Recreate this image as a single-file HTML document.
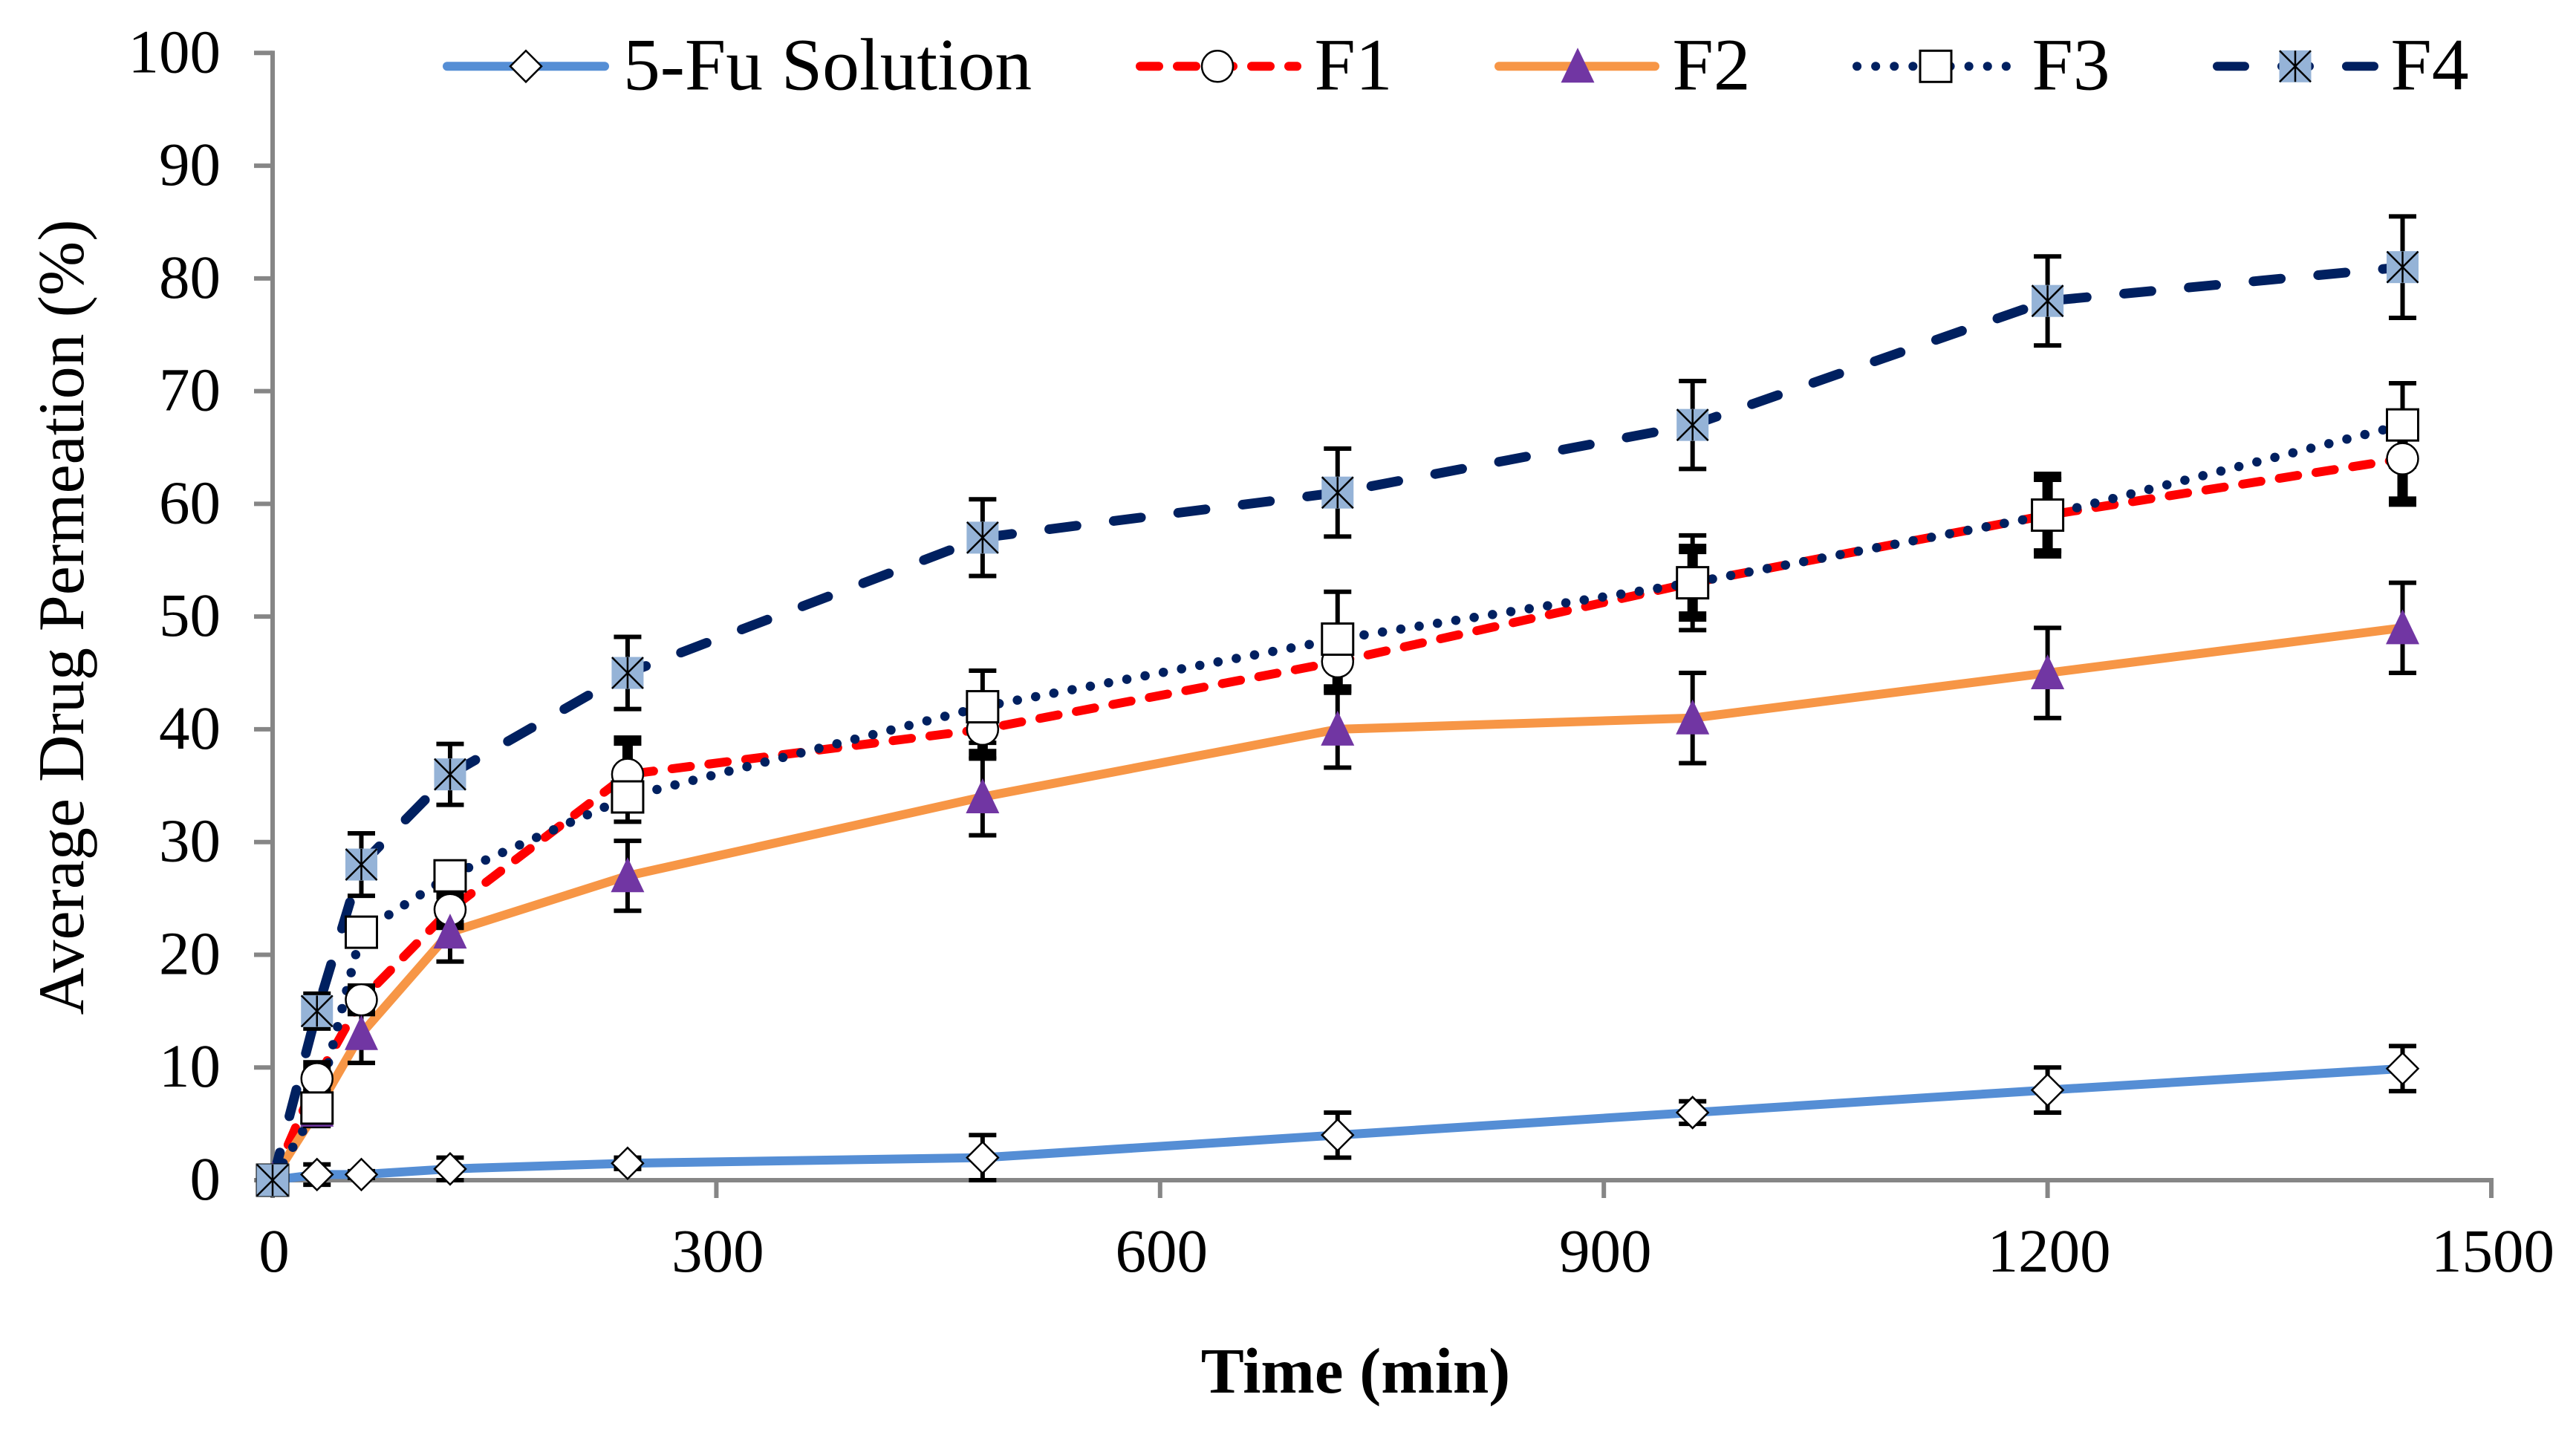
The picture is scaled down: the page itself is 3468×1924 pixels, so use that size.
<!DOCTYPE html>
<html lang="en">
<head>
<meta charset="utf-8">
<title>Average Drug Permeation</title>
<style>
html,body{margin:0;padding:0;background:#fff;}
svg{display:block;}
text{font-family:"Liberation Serif",serif;fill:#000;}
</style>
</head>
<body>
<svg id="chart" xmlns="http://www.w3.org/2000/svg" width="3468" height="1924" viewBox="0 0 3468 1924">
  <rect x="0" y="0" width="3468" height="1924" fill="#ffffff"/>
  <g id="axes"></g>
  <g id="lines"></g>
  <g id="errors"></g>
  <g id="markers"></g>
  <g id="legend"></g>
  <text x="1825" y="1875" font-size="87" font-weight="bold" text-anchor="middle">Time (min)</text>
  <text transform="translate(112 831) rotate(-90)" font-size="88" text-anchor="middle">Average Drug Permeation (%)</text>
</svg>
<script>
const times = [0, 30, 60, 120, 240, 480, 720, 960, 1200, 1440];
const xTickLabels = [0, 300, 600, 900, 1200, 1500];
const yTickLabels = [0, 10, 20, 30, 40, 50, 60, 70, 80, 90, 100];

const solutionValues = [0, 0.5, 0.5, 1, 1.5, 2, 4, 6, 8, 9.9];
const f1Values = [0, 9, 16, 24, 36, 40, 46, 53, 59, 64];
const f2Values = [0, 6.2, 13, 22, 27, 34, 40, 41, 45, 49];
const f3Values = [0, 6.4, 22, 27, 34, 42, 48, 53, 59, 67];
const f4Values = [0, 15, 28, 36, 45, 57, 61, 67, 78, 81];

const solutionErrors = [0, 0.9, 0.3, 1, 0.5, 2, 2, 1, 2, 2];
const f1Errors = [0, 1.2, 1, 1.35, 3, 2.2, 2.5, 3, 3.4, 3.8];
const f2Errors = [0, 1.4, 2.6, 2.6, 3.1, 3.4, 3.4, 4, 4, 4];
const f3Errors = [0, 1.5, 1, 0.8, 2.2, 3.2, 4.2, 4.2, 3.2, 3.7];
const f4Errors = [0, 1.55, 2.77, 2.7, 3.2, 3.4, 3.9, 3.9, 3.95, 4.5];

const seriesNames = ['5-Fu Solution', 'F1', 'F2', 'F3', 'F4'];

const NS = 'http://www.w3.org/2000/svg';
const plot = { left: 367, right: 3354, top: 71.3, bottom: 1589, xMax: 1500, yMax: 100 };
function xScale(v) { return plot.left + (v / plot.xMax) * (plot.right - plot.left); }
function yScale(v) { return plot.bottom - (v / plot.yMax) * (plot.bottom - plot.top); }

function make(tag, parent, attrs) {
  const el = document.createElementNS(NS, tag);
  for (const k in attrs) el.setAttribute(k, attrs[k]);
  parent.appendChild(el);
  return el;
}

const styles = [
  { key: 'solution', color: '#558ed5', width: 12, dash: '', offset: 0, cap: 'round', marker: 'diamond', barW: 6, capH: 6, values: solutionValues, errors: solutionErrors },
  { key: 'f1', color: '#ff0000', width: 12, dash: '25 25', offset: -2, cap: 'round', marker: 'circle', barW: 14, capH: 14, values: f1Values, errors: f1Errors },
  { key: 'f2', color: '#f79646', width: 12, dash: '', offset: 0, cap: 'round', marker: 'triangle', barW: 6, capH: 6, values: f2Values, errors: f2Errors },
  { key: 'f3', color: '#002060', width: 12.5, dash: '0.1 24.9', offset: -2, cap: 'round', marker: 'square', barW: 6, capH: 6, values: f3Values, errors: f3Errors },
  { key: 'f4', color: '#002060', width: 13, dash: '37 50.5', offset: -1.5, cap: 'round', marker: 'xsquare', barW: 6, capH: 6, values: f4Values, errors: f4Errors }
];

function drawMarker(parent, kind, cx, cy) {
  const g = make('g', parent, {});
  const r = 21;
  if (kind === 'diamond') {
    make('path', g, { d: `M${cx - r} ${cy}L${cx} ${cy - r}L${cx + r} ${cy}L${cx} ${cy + r}Z`, fill: '#fff', stroke: '#000', 'stroke-width': 2.5 });
  } else if (kind === 'circle') {
    make('circle', g, { cx: cx, cy: cy, r: r, fill: '#fff', stroke: '#000', 'stroke-width': 2.5 });
  } else if (kind === 'triangle') {
    make('path', g, { d: `M${cx} ${cy - 25}L${cx + 22.5} ${cy + 22}L${cx - 22.5} ${cy + 22}Z`, fill: '#7136a3' });
  } else if (kind === 'square') {
    make('rect', g, { x: cx - r, y: cy - r, width: 2 * r, height: 2 * r, fill: '#fff', stroke: '#000', 'stroke-width': 3 });
  } else {
    make('rect', g, { x: cx - r - 0.5, y: cy - r - 0.5, width: 2 * r + 1, height: 2 * r + 1, fill: '#95b3d7' });
    make('path', g, { d: `M${cx - r} ${cy - r}L${cx + r} ${cy + r}M${cx + r} ${cy - r}L${cx - r} ${cy + r}M${cx} ${cy - r}L${cx} ${cy + r}`, fill: 'none', stroke: '#000', 'stroke-width': 2.5 });
  }
  return g;
}

function drawAxes() {
  const axes = document.getElementById('axes');
  const axisColor = '#868686';
  const yLine = make('line', axes, { x1: plot.left, x2: plot.left, y1: plot.top - 3, y2: plot.bottom + 3, stroke: axisColor, 'stroke-width': 6 });
  
  
  const xLine = make('line', axes, { x1: plot.left - 3, x2: plot.right + 3, y1: plot.bottom, y2: plot.bottom, stroke: axisColor, 'stroke-width': 6 });
  
  

  yTickLabels.forEach(function (v) {
    const y = yScale(v);
    const tick = make('line', axes, { x1: plot.left - 25, x2: plot.left, y1: y, y2: y, stroke: axisColor, 'stroke-width': 6 });
    
    
    const label = make('text', axes, { x: 297, y: y + 26, 'font-size': 83, 'text-anchor': 'end' });
    label.textContent = String(v);
    
    
  });

  xTickLabels.forEach(function (v) {
    const x = xScale(v);
    const tick = make('line', axes, { x1: x, x2: x, y1: plot.bottom, y2: plot.bottom + 24, stroke: axisColor, 'stroke-width': 6 });
    
    
    const label = make('text', axes, { x: x + 2, y: 1712, 'font-size': 83, 'text-anchor': 'middle' });
    label.textContent = String(v);
    
    
  });
}

function drawSeries() {
  const linesG = document.getElementById('lines');
  const errorsG = document.getElementById('errors');
  const markersG = document.getElementById('markers');

  styles.forEach(function (s) {
    const pts = s.values.map(function (v, i) { return xScale(times[i]) + ',' + yScale(v); }).join(' ');
    const attrs = { points: pts, fill: 'none', stroke: s.color, 'stroke-width': s.width, 'stroke-linecap': s.cap, 'stroke-linejoin': 'round' };
    if (s.dash) {
      attrs['stroke-dasharray'] = s.dash;
      attrs['stroke-dashoffset'] = s.offset;
    }
    const line = make('polyline', linesG, attrs);
    
    
  });

  styles.forEach(function (s) {
    s.values.forEach(function (v, i) {
      const e = s.errors[i];
      if (!e) return;
      const x = xScale(times[i]);
      const hi = yScale(v + e);
      const lo = yScale(v - e);
      const d = `M${x} ${hi}L${x} ${lo}`;
      const c = `M${x - 18.5} ${hi}L${x + 18.5} ${hi}M${x - 18.5} ${lo}L${x + 18.5} ${lo}`;
      const g = make('g', errorsG, {});
      
      
      make('path', g, { d: d, stroke: '#000', 'stroke-width': s.barW, fill: 'none' });
      make('path', g, { d: c, stroke: '#000', 'stroke-width': s.capH, fill: 'none' });
    });
  });

  styles.forEach(function (s) {
    s.values.forEach(function (v, i) {
      const m = drawMarker(markersG, s.marker, xScale(times[i]), yScale(v));
      
      
    });
  });
}

function drawLegend() {
  const legend = document.getElementById('legend');
  const legendY = 89.3;
  const layout = [
    { x1: 602, x2: 814, mx: 708, tx: 839 },
    { x1: 1535, x2: 1746, mx: 1639, tx: 1769.5 },
    { x1: 2018, x2: 2228, mx: 2124, tx: 2251.5 },
    { x1: 2500, x2: 2703, mx: 2606, tx: 2735.5 },
    { x1: 2985, x2: 3197, mx: 3090, tx: 3218.5 }
  ];
  const legendDash = ['', '25 25', '', '0.1 25', '37 50'];
  styles.forEach(function (s, i) {
    const p = layout[i];
    const g = make('g', legend, {});
    
    
    const attrs = { x1: p.x1, x2: p.x2, y1: legendY, y2: legendY, stroke: s.color, 'stroke-width': 12, 'stroke-linecap': 'round' };
    if (legendDash[i]) attrs['stroke-dasharray'] = legendDash[i];
    const sample = make('line', g, attrs);
    
    
    const m = drawMarker(g, s.marker, p.mx, legendY);
    
    
    const t = make('text', g, { x: p.tx, y: 120.7, 'font-size': 99.5 });
    t.textContent = seriesNames[i];
    
    
  });
}

drawAxes();
drawSeries();
drawLegend();
</script>
</body>
</html>
